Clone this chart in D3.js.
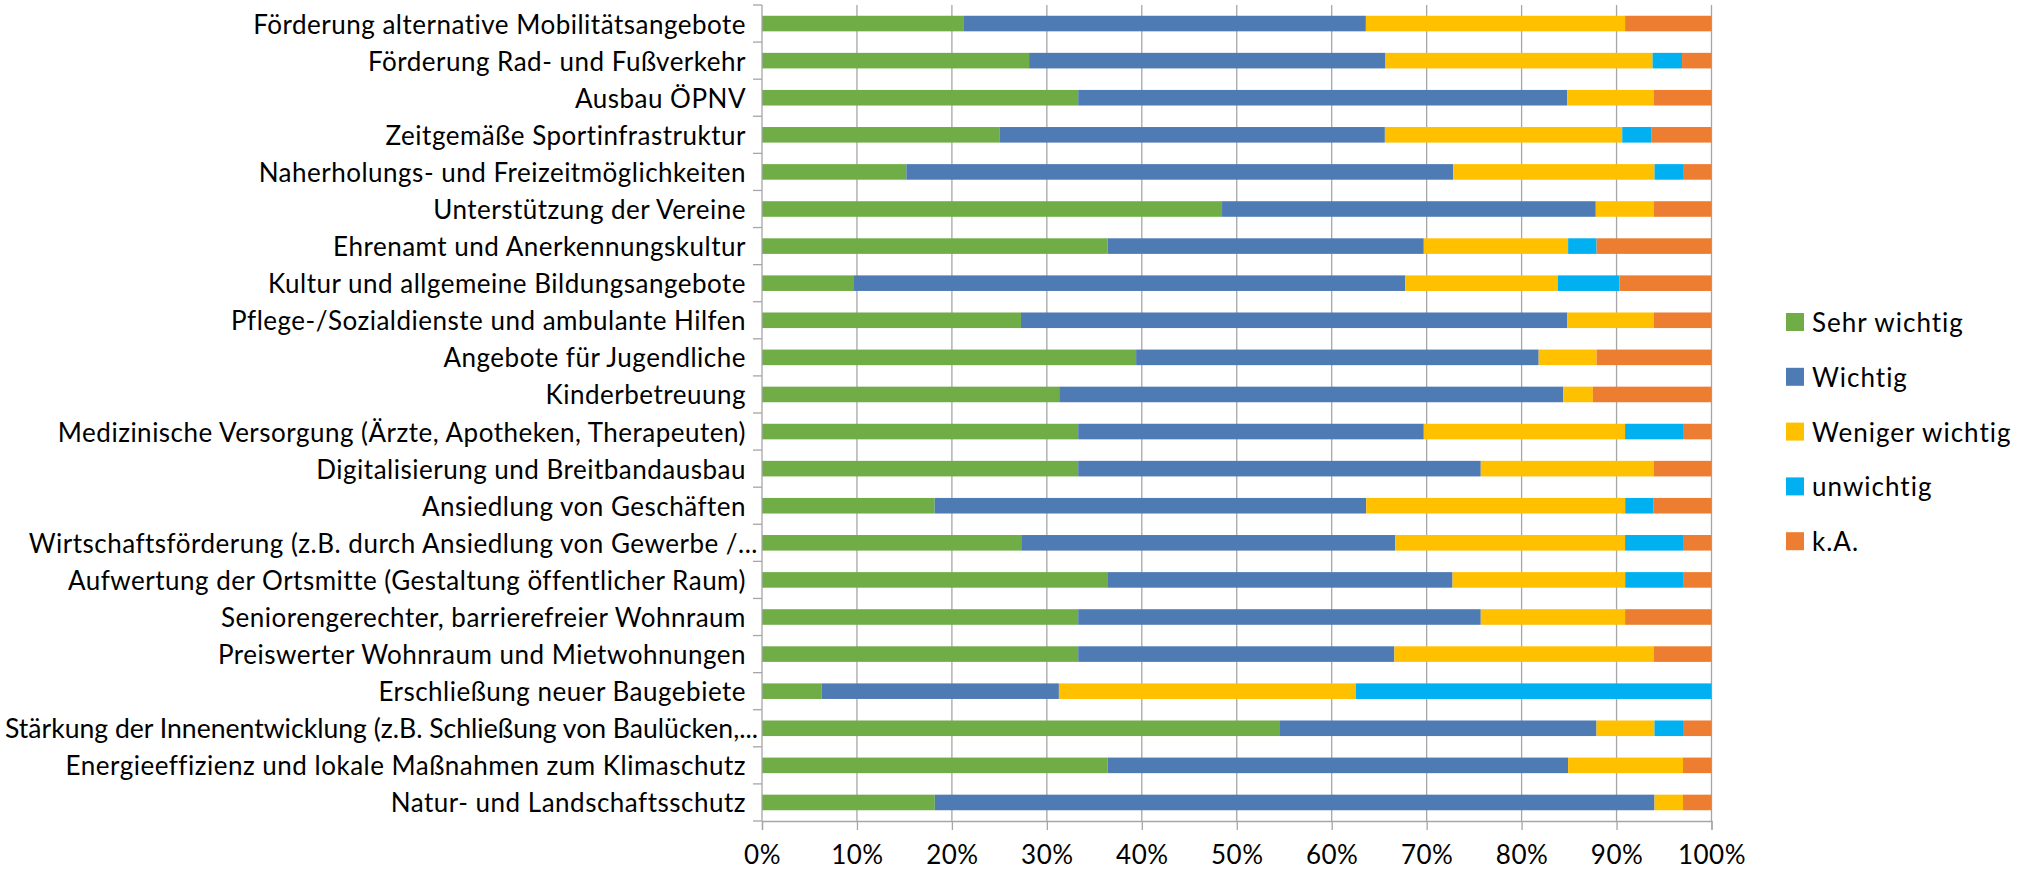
<!DOCTYPE html>
<html>
<head>
<meta charset="utf-8">
<script src="https://cdn.jsdelivr.net/npm/d3@7"></script>
<style>
  body { margin: 0; background: #fff; }
  svg { display: block; }
  text { font-family: Lato, "Open Sans", sans-serif; fill: #000; }
</style>
</head>
<body>
<svg id="chart" width="2036" height="870"></svg>
<script>
// Survey topics (top to bottom)
const categories = [
  "Förderung alternative Mobilitätsangebote",
  "Förderung Rad- und Fußverkehr",
  "Ausbau ÖPNV",
  "Zeitgemäße Sportinfrastruktur",
  "Naherholungs- und Freizeitmöglichkeiten",
  "Unterstützung der Vereine",
  "Ehrenamt und Anerkennungskultur",
  "Kultur und allgemeine Bildungsangebote",
  "Pflege-/Sozialdienste und ambulante Hilfen",
  "Angebote für Jugendliche",
  "Kinderbetreuung",
  "Medizinische Versorgung (Ärzte, Apotheken, Therapeuten)",
  "Digitalisierung und Breitbandausbau",
  "Ansiedlung von Geschäften",
  "Wirtschaftsförderung (z.B. durch Ansiedlung von Gewerbe /...",
  "Aufwertung der Ortsmitte (Gestaltung öffentlicher Raum)",
  "Seniorengerechter, barrierefreier Wohnraum",
  "Preiswerter Wohnraum und Mietwohnungen",
  "Erschließung neuer Baugebiete",
  "Stärkung der Innenentwicklung (z.B. Schließung von Baulücken,...",
  "Energieeffizienz und lokale Maßnahmen zum Klimaschutz",
  "Natur- und Landschaftsschutz"
];

// Answer shares in percent, one array per answer option
const sehrWichtig    = [21.2, 28.1, 33.3, 25.0, 15.2, 48.5, 36.4,  9.7, 27.3, 39.4, 31.3, 33.3, 33.3, 18.2, 27.3, 36.4, 33.3, 33.3,  6.3, 54.5, 36.4, 18.2];
const wichtig        = [42.4, 37.5, 51.5, 40.6, 57.6, 39.4, 33.3, 58.1, 57.6, 42.4, 53.1, 36.4, 42.4, 45.5, 39.4, 36.4, 42.4, 33.3, 25.0, 33.3, 48.5, 75.8];
const wenigerWichtig = [27.3, 28.1,  9.1, 25.0, 21.2,  6.1, 15.2, 16.1,  9.1,  6.1,  3.1, 21.2, 18.2, 27.3, 24.2, 18.2, 15.2, 27.3, 31.3,  6.1, 12.1,  3.0];
const unwichtig      = [ 0.0,  3.1,  0.0,  3.1,  3.0,  0.0,  3.0,  6.5,  0.0,  0.0,  0.0,  6.1,  0.0,  3.0,  6.1,  6.1,  0.0,  0.0, 37.5,  3.0,  0.0,  0.0];
const keineAngabe    = [ 9.1,  3.1,  6.1,  6.3,  3.0,  6.1, 12.1,  9.7,  6.1, 12.1, 12.5,  3.0,  6.1,  6.1,  3.0,  3.0,  9.1,  6.1,  0.0,  3.0,  3.0,  3.0];

const seriesNames  = ["Sehr wichtig", "Wichtig", "Weniger wichtig", "unwichtig", "k.A."];
const seriesValues = [sehrWichtig, wichtig, wenigerWichtig, unwichtig, keineAngabe];
const seriesColors = ["#70AD47", "#4F7BB5", "#FFC000", "#00B0F0", "#ED7D31"];
const xTicks = [0, 0.1, 0.2, 0.3, 0.4, 0.5, 0.6, 0.7, 0.8, 0.9, 1.0];

// Layout
const plot = { left: 762, right: 1711.5, top: 5, bottom: 821 };
const gridColor = "#A6A6A6";
const fontSize = 26;
const labelMinX = 5;

const svg = d3.select("#chart");

// Build rows for the stack: one object per category
const rows = categories.map((c, i) => {
  const r = { category: c };
  seriesNames.forEach((s, k) => { r[s] = seriesValues[k][i]; });
  return r;
});
const stacked = d3.stack().keys(seriesNames).offset(d3.stackOffsetExpand)(rows);

const x = d3.scaleLinear().domain([0, 1]).range([plot.left, plot.right]);
const y = d3.scaleBand().domain(categories).range([plot.top, plot.bottom])
  .paddingInner(0.58).paddingOuter(0.29);

// Vertical gridlines
svg.append("g").selectAll("line").data(xTicks.slice(1)).join("line")
  .attr("x1", d => x(d)).attr("x2", d => x(d))
  .attr("y1", plot.top).attr("y2", plot.bottom)
  .attr("stroke", gridColor).attr("stroke-width", 1.3);

// Stacked bars
svg.append("g").selectAll("g").data(stacked).join("g")
  .attr("fill", (d, i) => seriesColors[i])
  .selectAll("rect").data(d => d).join("rect")
  .attr("x", d => x(d[0]))
  .attr("width", d => Math.max(0, x(d[1]) - x(d[0])))
  .attr("y", d => y(d.data.category))
  .attr("height", y.bandwidth());

// Category axis line with ticks at band boundaries
const catAxis = svg.append("g");
catAxis.append("line")
  .attr("x1", plot.left).attr("x2", plot.left)
  .attr("y1", plot.top).attr("y2", plot.bottom)
  .attr("stroke", gridColor).attr("stroke-width", 1.3);
catAxis.selectAll("line.tick").data(d3.range(categories.length + 1)).join("line")
  .attr("class", "tick")
  .attr("x1", plot.left - 9).attr("x2", plot.left)
  .attr("y1", i => plot.top + i * y.step()).attr("y2", i => plot.top + i * y.step())
  .attr("stroke", gridColor).attr("stroke-width", 1.3);

// Category labels, right aligned next to the axis
const labelX = d => d.endsWith("...") ? plot.left - 4 : plot.left - 16;
catAxis.selectAll("text").data(categories).join("text")
  .attr("x", labelX)
  .attr("y", d => y(d) + y.bandwidth() / 2)
  .attr("text-anchor", "end")
  .attr("dominant-baseline", "central")
  .style("font-size", fontSize + "px")
  .style("letter-spacing", "0.5px")
  .text(d => d)
  .each(function (d) {
    // squeeze labels that would run past the left edge of the canvas
    const room = labelX(d) - labelMinX;
    const w = this.getComputedTextLength();
    if (w > room) {
      d3.select(this).style("letter-spacing", "0px")
        .attr("textLength", room).attr("lengthAdjust", "spacingAndGlyphs");
    }
  });

// Value axis at the bottom
const xAxis = d3.axisBottom(x).tickValues(xTicks).tickFormat(d3.format(".0%"))
  .tickSize(9).tickPadding(16);
const gx = svg.append("g").attr("transform", `translate(0,${plot.bottom})`).call(xAxis);
gx.select(".domain").attr("stroke", gridColor).attr("stroke-width", 1.3);
gx.selectAll(".tick line").attr("stroke", gridColor).attr("stroke-width", 1.3);
gx.selectAll(".tick text")
  .style("font-size", fontSize + "px")
  .style("font-family", "Lato, sans-serif")
  .style("letter-spacing", "0.5px")
  .attr("fill", "#000");

// Legend
const legend = svg.append("g").attr("transform", "translate(1786,313)");
const item = legend.selectAll("g").data(seriesNames).join("g")
  .attr("transform", (d, i) => `translate(0,${i * 54.8})`);
item.append("rect").attr("width", 18).attr("height", 18)
  .attr("fill", (d, i) => seriesColors[i]);
item.append("text").attr("x", 26).attr("y", 9)
  .attr("dominant-baseline", "central")
  .style("font-size", fontSize + "px")
  .style("letter-spacing", "1px")
  .text(d => d);
</script>
</body>
</html>
